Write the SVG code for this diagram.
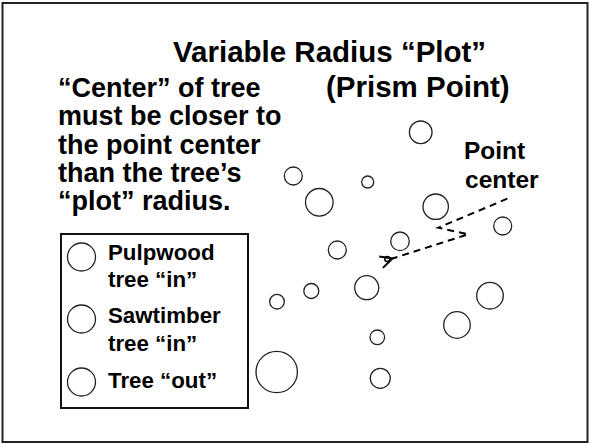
<svg xmlns="http://www.w3.org/2000/svg" width="590" height="444" viewBox="0 0 590 444">
<style>
  text { font-family: "Liberation Sans", Arial, sans-serif; font-weight: bold; fill: #000; }
  .big { font-size: 27px; }
  .ttl { font-size: 29.5px; }
  .mid { font-size: 24.5px; }
  .leg { font-size: 22.3px; }
  .tree { fill: #fff; stroke: #222; stroke-width: 1.3; }
  .conn { fill: none; stroke: #000; stroke-width: 2; stroke-dasharray: 7 5; }
</style>
<defs>
  <marker id="open" viewBox="0 0 14 14" refX="1" refY="7" markerWidth="14" markerHeight="14" markerUnits="userSpaceOnUse" orient="auto">
    <path d="M13,1 L1,7 L13,13" fill="none" stroke="#000" stroke-width="2"/>
  </marker>
</defs>
<rect x="0" y="0" width="590" height="444" fill="#fff"/>
<rect x="2.5" y="3" width="585" height="439" fill="none" stroke="#222" stroke-width="2"/>

<g id="title">
  <text class="ttl" x="173" y="62">Variable Radius “Plot”</text>
  <text class="ttl" x="326" y="97">(Prism Point)</text>
</g>

<g id="note">
  <text class="big" x="58" y="97">“Center” of tree</text>
  <text class="big" x="58" y="125">must be closer to</text>
  <text class="big" x="58" y="153.5">the point center</text>
  <text class="big" x="58" y="182">than the tree’s</text>
  <text class="big" x="58" y="210">“plot” radius.</text>
</g>

<g id="point-center-label">
  <text class="mid" x="464" y="159">Point</text>
  <text class="mid" x="465" y="188">center</text>
</g>

<g id="legend">
  <rect x="61" y="234" width="187" height="174" fill="none" stroke="#111" stroke-width="2"/>
  <circle class="tree" cx="81.5" cy="257" r="14"/>
  <circle class="tree" cx="81.5" cy="319" r="14"/>
  <circle class="tree" cx="81.5" cy="382" r="14"/>
  <text class="leg" x="108" y="260">Pulpwood</text>
  <text class="leg" x="108" y="287">tree “in”</text>
  <text class="leg" x="108" y="323">Sawtimber</text>
  <text class="leg" x="108" y="351">tree “in”</text>
  <text class="leg" x="108" y="388">Tree “out”</text>
</g>

<g id="trees">
  <circle class="tree" cx="420.7" cy="132.3" r="11.3"/>
  <circle class="tree" cx="293.3" cy="176" r="9"/>
  <circle class="tree" cx="367.7" cy="182" r="6"/>
  <circle class="tree" cx="319.3" cy="202.3" r="13.8"/>
  <circle class="tree" cx="435.7" cy="206.7" r="12.7"/>
  <circle class="tree" cx="502.7" cy="226" r="9"/>
  <circle class="tree" cx="400" cy="241.3" r="9.3"/>
  <circle class="tree" cx="337.3" cy="250" r="9"/>
  <circle class="tree" cx="366.7" cy="287.7" r="12"/>
  <circle class="tree" cx="311.3" cy="291" r="7.5"/>
  <circle class="tree" cx="277" cy="301.7" r="7.3"/>
  <circle class="tree" cx="490" cy="295.7" r="13.3"/>
  <circle class="tree" cx="457" cy="325" r="13.3"/>
  <circle class="tree" cx="377.3" cy="337.3" r="7.3"/>
  <circle class="tree" cx="276.7" cy="372" r="20.7"/>
  <circle class="tree" cx="380.3" cy="378.3" r="10"/>
</g>

<g id="point">
  <circle cx="387.3" cy="259" r="2.5" fill="none" stroke="#000" stroke-width="1.5"/>
</g>

<g id="connectors">
  <path class="conn" d="M507.3,198.7 L438.3,227.7 L468.3,234.3 L392.5,258.5" marker-end="url(#open)"/>
</g>
</svg>
